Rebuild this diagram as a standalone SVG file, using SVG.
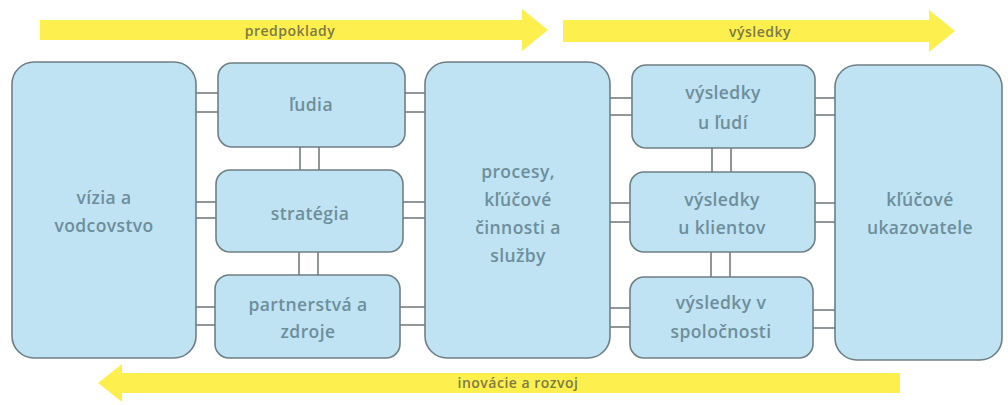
<svg xmlns="http://www.w3.org/2000/svg" width="1008" height="405" viewBox="0 0 1008 405">
<style>
.box{fill:#c0e3f3;stroke:#6f7f86;stroke-width:1.6}
.lbl{font-family:"Open Sans","Liberation Sans",sans-serif;font-size:17.5px;font-weight:600;fill:#6d8e9b;text-anchor:middle;letter-spacing:0.4px}
.arr{fill:#fdf04e}
.atx{font-family:"Open Sans","Liberation Sans",sans-serif;font-size:14px;font-weight:600;fill:#7d7a44;text-anchor:middle;letter-spacing:0.5px}
.con line{stroke:#5f6a6e;stroke-width:1.4}
</style>
<rect width="1008" height="405" fill="#ffffff"/>
<g id="arrow-predpoklady">
<polygon class="arr" points="40,20 522,20 522,9 548,30 522,51 522,40 40,40"/>
<text class="atx" x="290" y="36">predpoklady</text>
</g>
<g id="arrow-vysledky">
<polygon class="arr" points="563,20 929,20 929,10 955,31 929,52 929,42 563,42"/>
<text class="atx" x="760" y="37">výsledky</text>
</g>
<g id="arrow-inovacie">
<polygon class="arr" points="900,373 122,373 122,364 98,383 122,402 122,393 900,393"/>
<text class="atx" x="518" y="388">inovácie a rozvoj</text>
</g>
<g class="con" id="connectors">
<line x1="196" y1="93" x2="218" y2="93"/><line x1="196" y1="112" x2="218" y2="112"/>
<line x1="196" y1="202" x2="216" y2="202"/><line x1="196" y1="218" x2="216" y2="218"/>
<line x1="196" y1="307" x2="215" y2="307"/><line x1="196" y1="325" x2="215" y2="325"/>
<line x1="300" y1="147" x2="300" y2="170"/><line x1="319" y1="147" x2="319" y2="170"/>
<line x1="299" y1="252" x2="299" y2="275"/><line x1="318" y1="252" x2="318" y2="275"/>
<line x1="405" y1="93" x2="425" y2="93"/><line x1="405" y1="112" x2="425" y2="112"/>
<line x1="403" y1="202" x2="425" y2="202"/><line x1="403" y1="218" x2="425" y2="218"/>
<line x1="400" y1="307" x2="425" y2="307"/><line x1="400" y1="325" x2="425" y2="325"/>
<line x1="610" y1="98" x2="632" y2="98"/><line x1="610" y1="115" x2="632" y2="115"/>
<line x1="610" y1="203" x2="630" y2="203"/><line x1="610" y1="222" x2="630" y2="222"/>
<line x1="610" y1="308" x2="630" y2="308"/><line x1="610" y1="327" x2="630" y2="327"/>
<line x1="712" y1="148" x2="712" y2="172"/><line x1="731" y1="148" x2="731" y2="172"/>
<line x1="711" y1="252" x2="711" y2="277"/><line x1="730" y1="252" x2="730" y2="277"/>
<line x1="815" y1="98" x2="835" y2="98"/><line x1="815" y1="115" x2="835" y2="115"/>
<line x1="815" y1="203" x2="835" y2="203"/><line x1="815" y1="222" x2="835" y2="222"/>
<line x1="813" y1="310" x2="835" y2="310"/><line x1="813" y1="328" x2="835" y2="328"/>
</g>
<g id="n-vizia">
<rect class="box" x="12" y="62" width="184" height="296" rx="22"/>
<text class="lbl" x="104" y="204">vízia a</text>
<text class="lbl" x="104" y="232">vodcovstvo</text>
</g>
<g id="n-ludia">
<rect class="box" x="218" y="63" width="187" height="84" rx="14"/>
<text class="lbl" x="311" y="111">ľudia</text>
</g>
<g id="n-strategia">
<rect class="box" x="216" y="170" width="187" height="82" rx="14"/>
<text class="lbl" x="310" y="220">stratégia</text>
</g>
<g id="n-partnerstva">
<rect class="box" x="215" y="275" width="185" height="83" rx="14"/>
<text class="lbl" x="308" y="311">partnerstvá a</text>
<text class="lbl" x="308" y="338">zdroje</text>
</g>
<g id="n-procesy">
<rect class="box" x="425" y="62" width="185" height="296" rx="22"/>
<text class="lbl" x="518" y="178">procesy,</text>
<text class="lbl" x="518" y="206">kľúčové</text>
<text class="lbl" x="518" y="234">činnosti a</text>
<text class="lbl" x="518" y="262">služby</text>
</g>
<g id="n-vysledky-ludi">
<rect class="box" x="632" y="65" width="183" height="83" rx="14"/>
<text class="lbl" x="723" y="99">výsledky</text>
<text class="lbl" x="723" y="129">u ľudí</text>
</g>
<g id="n-vysledky-klientov">
<rect class="box" x="630" y="172" width="185" height="80" rx="14"/>
<text class="lbl" x="722" y="206">výsledky</text>
<text class="lbl" x="722" y="234">u klientov</text>
</g>
<g id="n-vysledky-spolocnosti">
<rect class="box" x="630" y="277" width="183" height="81" rx="14"/>
<text class="lbl" x="721" y="309">výsledky v</text>
<text class="lbl" x="721" y="338">spoločnosti</text>
</g>
<g id="n-ukazovatele">
<rect class="box" x="835" y="65" width="167" height="295" rx="22"/>
<text class="lbl" x="920" y="206">kľúčové</text>
<text class="lbl" x="920" y="234">ukazovatele</text>
</g>
</svg>
